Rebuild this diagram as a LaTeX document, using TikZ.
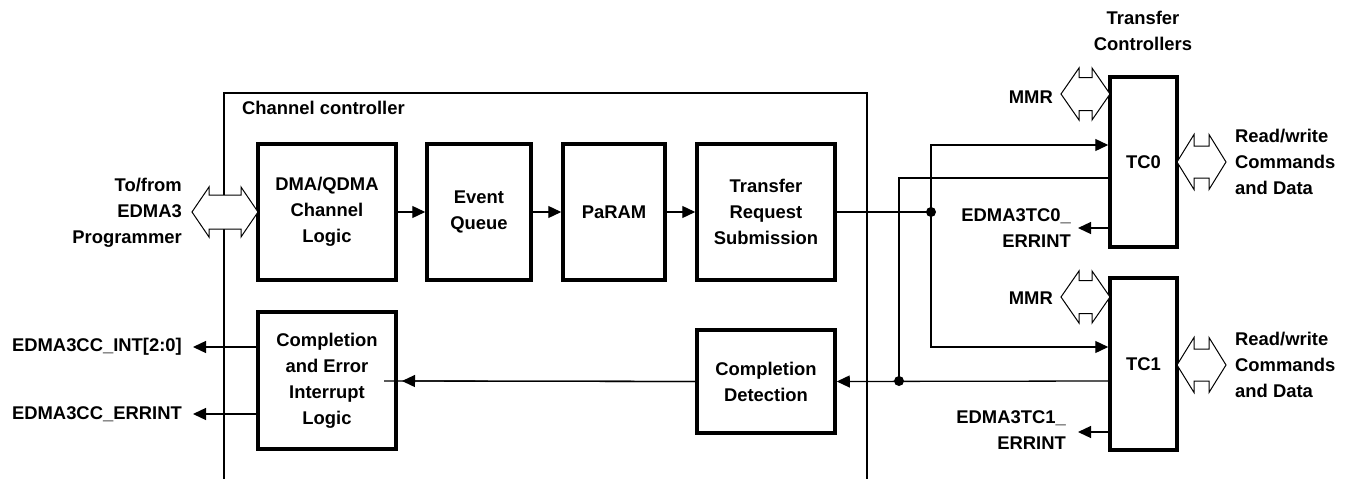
\documentclass[tikz,border=0pt]{standalone}
\usepackage{fontspec}
\setmainfont{Liberation Sans}
\usetikzlibrary{arrows.meta,calc}
\newcommand\hdarrow[6]{%
\draw[hollowarr] (#1,#3) -- (#1+#4,#3-#5) -- (#1+#4,#3-#6) -- (#2-#4,#3-#6) -- (#2-#4,#3-#5) -- (#2,#3) -- (#2-#4,#3+#5) -- (#2-#4,#3+#6) -- (#1+#4,#3+#6) -- (#1+#4,#3+#5) -- cycle;}
\begin{document}
\begin{tikzpicture}[x=1pt,y=-1pt,
  font=\fontsize{18.4}{26}\selectfont\bfseries,
  blk/.style={draw, line width=3.5pt, align=center, inner sep=0pt},
  lbl/.style={inner sep=0pt, align=center},
  wire/.style={line width=1.3pt},
  arr/.style={wire, -{Triangle[length=13pt,width=12pt]}},
  hollowarr/.style={draw, fill=white, line width=1pt, line join=miter},
  dot/.style={circle, fill, inner sep=0pt, minimum size=10pt}]
\useasboundingbox (0,0) rectangle (1361,479);
% channel controller frame
\draw[wire] (224,479) -- (224,93) -- (867,93) -- (867,479);
\node[lbl, anchor=base west] (cctitle) at (242,114) {Channel controller};
% blocks
\node[blk, minimum width=138pt, minimum height=136pt] (dma) at (327,212) {DMA/QDMA\\Channel\\Logic};
\node[blk, minimum width=104pt, minimum height=136pt] (eq) at (479,212) {Event\\Queue};
\node[blk, minimum width=102pt, minimum height=136pt] (param) at (614,212) {PaRAM};
\node[blk, minimum width=138pt, minimum height=136pt] (trs) at (766,212) {Transfer\\Request\\Submission};
\node[blk, minimum width=138pt, minimum height=137pt] (cei) at (327,380.5) {Completion\\and Error\\Interrupt\\Logic};
\node[blk, minimum width=138pt, minimum height=103pt] (cd) at (766,381.5) {Completion\\Detection};
\node[blk, minimum width=67pt, minimum height=170pt] (tc0) at (1143.5,162) {TC0};
\node[blk, minimum width=67pt, minimum height=172pt] (tc1) at (1143.5,364) {TC1};
% flow arrows
\draw[arr] (dma.east) -- (eq.west);
\draw[arr] (eq.east) -- (param.west);
\draw[arr] (param.east) -- (trs.west);
% junctions
\coordinate (j1) at (931,212);
\coordinate (j2) at (899,381);
\coordinate (t0in) at (931,145);
\coordinate (t0out) at (899,178);
\draw[wire] (trs.east) -- (j1);
\draw[arr] (j1) |- (tc0.west |- t0in);
\draw[arr] (j1) |- (tc1.west |- 0,347);
\draw[wire] (tc0.west |- t0out) -| (j2);
\draw[arr] (tc1.west |- j2) -- (cd.east);
\node[dot] (d1) at (j1) {};
\node[dot] (d2) at (j2) {};
\coordinate (ceitip) at (402,381);
\coordinate (ceiend) at (384,381);
\draw[wire] (cd.west) -- (ceiend);
\draw[arr] (cd.west) -- (ceitip);
% left outputs
\coordinate (inttip) at (193,347);
\coordinate (errtip) at (193,414);
\draw[arr] (cei.west |- inttip) -- (inttip);
\draw[arr] (cei.west |- errtip) -- (errtip);
\node[lbl, anchor=east] (intl) at (182,347) {EDMA3CC\_INT[2:0]};
\node[lbl, anchor=east] (errl) at (182,414) {EDMA3CC\_ERRINT};
% to/from programmer
\hdarrow{192}{258}{212}{17}{25}{17}
\node[lbl, align=right, anchor=east] (prog) at (182,213) {To/from\\EDMA3\\Programmer};
% transfer controllers
\node[lbl] (tctitle) at (1143,31) {Transfer\\Controllers};
\hdarrow{1061}{1110}{94}{18}{26}{16.5}
\node[lbl, anchor=east] (mmr0) at (1053,97) {MMR};
\hdarrow{1061}{1110}{297}{18}{26}{16.5}
\node[lbl, anchor=east] (mmr1) at (1053,298) {MMR};
\hdarrow{1177}{1226}{162}{17}{27.5}{16}
\node[lbl, align=left, anchor=west] (rw0) at (1235,162) {Read/write\\Commands\\and Data};
\hdarrow{1177}{1226}{365}{17}{27.5}{16}
\node[lbl, align=left, anchor=west] (rw1) at (1235,365) {Read/write\\Commands\\and Data};
% TC error outputs
\coordinate (e0tip) at (1078,228);
\coordinate (e1tip) at (1078,432);
\draw[arr] (tc0.west |- e0tip) -- (e0tip);
\draw[arr] (tc1.west |- e1tip) -- (e1tip);
\node[lbl, align=right, anchor=east] (e0l) at (1071,228) {EDMA3TC0\_\\ERRINT};
\node[lbl, align=right, anchor=east] (e1l) at (1066,430) {EDMA3TC1\_\\ERRINT};
\end{tikzpicture}
\end{document}
